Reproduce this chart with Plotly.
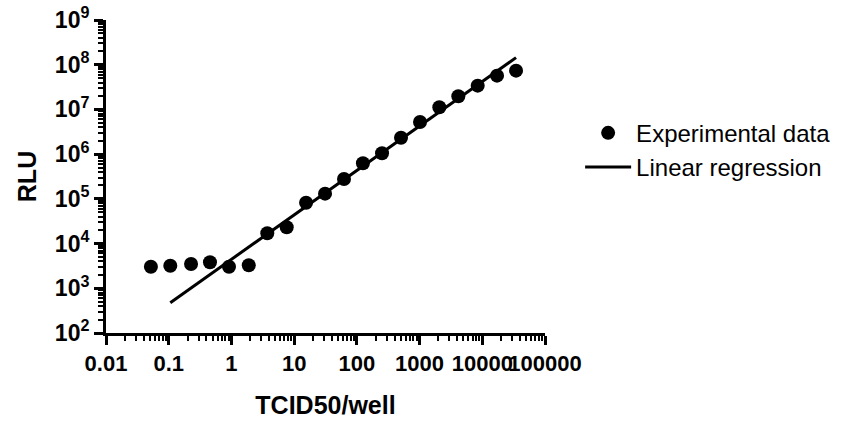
import plotly.graph_objects as go

tcid50 = [0.052, 0.106, 0.227, 0.455, 0.915, 1.89, 3.73, 7.61, 15.5, 31.1,
          62.4, 125, 252, 506, 1017, 2065, 4150, 8450, 17180, 34540]
rlu = [3040, 3200, 3490, 3810, 3040, 3270, 17000, 23100, 82100, 130600,
       278000, 625000, 1045000, 2330000, 5240000, 11170000, 19700000,
       34000000, 56900000, 73600000]

# Linear regression line endpoints (log-log)
reg_x = [0.106, 34540]
reg_y = [477, 144000000]

x_tickvals = [0.01, 0.1, 1, 10, 100, 1000, 10000, 100000]
x_ticktext = ["0.01", "0.1", "1", "10", "100", "1000", "10000", "100000"]
y_tickvals = [1e2, 1e3, 1e4, 1e5, 1e6, 1e7, 1e8, 1e9]
y_ticktext = ["10<sup>%d</sup>" % e for e in range(2, 10)]

FONT = "Liberation Sans, Arial, sans-serif"

fig = go.Figure()
fig.add_trace(go.Scatter(
    x=tcid50, y=rlu, mode="markers", name="Experimental data",
    marker=dict(color="black", size=14, line=dict(width=0)),
))
fig.add_trace(go.Scatter(
    x=reg_x, y=reg_y, mode="lines", name="Linear regression",
    line=dict(color="black", width=3),
))

axis_common = dict(
    showgrid=False, zeroline=False, showline=True, linecolor="black",
    linewidth=3, ticks="outside", ticklen=9, tickwidth=3, tickcolor="black",
    tickmode="array", tickangle=0,
    minor=dict(ticks="outside", ticklen=5, tickwidth=2, tickcolor="black",
               dtick="D1", showgrid=False),
)

fig.update_xaxes(
    type="log", range=[-2, 5], tickvals=x_tickvals, ticktext=x_ticktext,
    tickfont=dict(family=FONT, size=22, color="black", weight="bold"),
    title=dict(text="TCID50/well", standoff=22,
               font=dict(family=FONT, size=25, color="black", weight="bold")),
    **axis_common,
)
fig.update_yaxes(
    type="log", range=[2, 9], tickvals=y_tickvals, ticktext=y_ticktext,
    tickfont=dict(family=FONT, size=23, color="black", weight="bold"),
    title=dict(text="RLU", standoff=12,
               font=dict(family=FONT, size=25, color="black", weight="bold")),
    **axis_common,
)

fig.update_layout(
    width=847, height=422,
    margin=dict(l=106, r=302, t=20, b=89, autoexpand=False),
    plot_bgcolor="white", paper_bgcolor="white",
    showlegend=True,
    legend=dict(
        x=1.08, xanchor="left", y=0.71, yanchor="top",
        font=dict(family=FONT, size=24, color="black"),
        itemwidth=46, bgcolor="rgba(0,0,0,0)", tracegroupgap=0,
    ),
)

fig.write_html("out.html")
